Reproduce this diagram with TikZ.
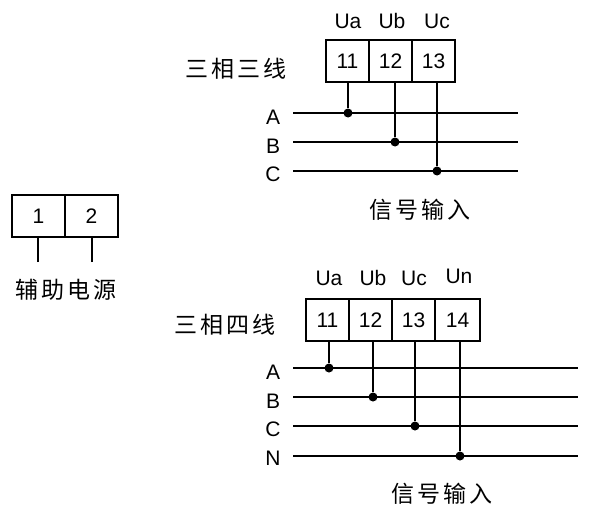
\documentclass[tikz,border=0pt]{standalone}
\usepackage{fontspec}
\setmainfont{Liberation Sans}
\newfontfamily\cjk[LetterSpace=12]{Noto Sans CJK SC}
\begin{document}
\begin{tikzpicture}[x=1pt,y=-1pt,
  cell/.style={draw,line width=1.4pt,minimum height=42pt,inner sep=0pt,font=\fontsize{21}{21}\selectfont},
  lbl/.style={font=\fontsize{21}{21}\selectfont,inner sep=0pt},
  cn/.style={font=\cjk\fontsize{23}{23}\selectfont,inner sep=0pt},
  wire/.style={line width=1.4pt},
  dot/.style={circle,fill,inner sep=0pt,minimum size=9pt}]
\useasboundingbox (0,0) rectangle (601,511);
% top
\node[cell,minimum width=43pt] (t11) at (347.5,61) {11};
\node[cell,minimum width=43pt] (t12) at (390.5,61) {12};
\node[cell,minimum width=43pt] (t13) at (433.5,61) {13};
\node[lbl] (tua) at (348,21) {Ua};
\node[lbl] (tub) at (392,21) {Ub};
\node[lbl] (tuc) at (437,21) {Uc};
\node[cn] (t3) at (236,69) {三相三线};
\node[lbl] (tA) at (273,117) {A};
\node[lbl] (tB) at (273,146) {B};
\node[lbl] (tC) at (273,174) {C};
\coordinate (tAs) at (293,113); \coordinate (tAe) at (518,113);
\coordinate (tBs) at (293,142); \coordinate (tBe) at (518,142);
\coordinate (tCs) at (293,171); \coordinate (tCe) at (518,171);
\draw[wire] (tAs)--(tAe); \draw[wire] (tBs)--(tBe); \draw[wire] (tCs)--(tCe);
\node[dot] (td1) at (348,113) {}; \node[dot] (td2) at (395,142) {}; \node[dot] (td3) at (437,171) {};
\draw[wire] (td1) -- (td1 |- t11.south);
\draw[wire] (td2) -- (td2 |- t12.south);
\draw[wire] (td3) -- (td3 |- t13.south);
\node[cn] (tsig) at (420,210) {信号输入};
% aux
\node[cell,minimum width=53pt] (a1) at (38.5,216) {1};
\node[cell,minimum width=53pt] (a2) at (91.5,216) {2};
\coordinate (a1e) at (38,262); \coordinate (a2e) at (92,262);
\draw[wire] (a1e) -- (a1e |- a1.south);
\draw[wire] (a2e) -- (a2e |- a2.south);
\node[cn] (aux) at (66,290) {辅助电源};
% bottom
\node[cell,minimum width=43pt] (b11) at (327.5,320) {11};
\node[cell,minimum width=43pt] (b12) at (370.5,320) {12};
\node[cell,minimum width=43pt] (b13) at (413.5,320) {13};
\node[cell,minimum width=45pt] (b14) at (457.5,320) {14};
\node[lbl] (bua) at (329,278) {Ua};
\node[lbl] (bub) at (373,278) {Ub};
\node[lbl] (buc) at (414,278) {Uc};
\node[lbl] (bun) at (459,276) {Un};
\node[cn] (b4) at (225,325) {三相四线};
\node[lbl] (bA) at (273,372) {A};
\node[lbl] (bB) at (273,401) {B};
\node[lbl] (bC) at (273,429) {C};
\node[lbl] (bN) at (273,458) {N};
\coordinate (bAs) at (293,368); \coordinate (bAe) at (578,368);
\coordinate (bBs) at (293,397); \coordinate (bBe) at (578,397);
\coordinate (bCs) at (293,426); \coordinate (bCe) at (578,426);
\coordinate (bNs) at (293,456); \coordinate (bNe) at (578,456);
\draw[wire] (bAs)--(bAe); \draw[wire] (bBs)--(bBe); \draw[wire] (bCs)--(bCe); \draw[wire] (bNs)--(bNe);
\node[dot] (bd1) at (329,368) {}; \node[dot] (bd2) at (373,397) {};
\node[dot] (bd3) at (415,426) {}; \node[dot] (bd4) at (460,456) {};
\draw[wire] (bd1) -- (bd1 |- b11.south);
\draw[wire] (bd2) -- (bd2 |- b12.south);
\draw[wire] (bd3) -- (bd3 |- b13.south);
\draw[wire] (bd4) -- (bd4 |- b14.south);
\node[cn] (bsig) at (442,494) {信号输入};
\end{tikzpicture}
\end{document}
